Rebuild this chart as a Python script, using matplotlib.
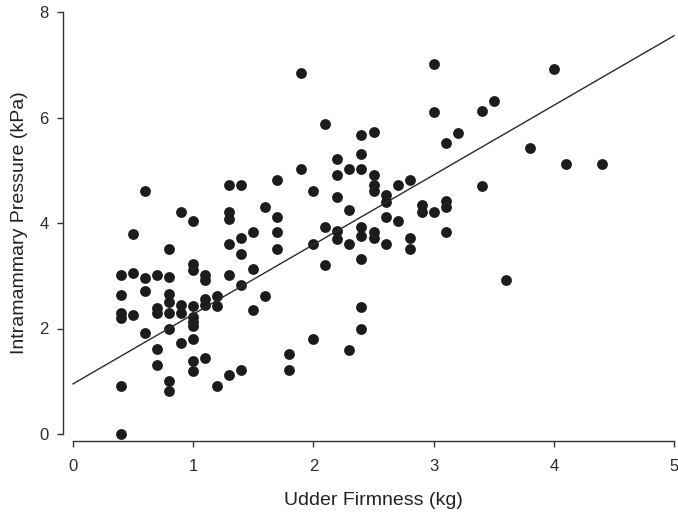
import numpy as np
import matplotlib
matplotlib.use("Agg")
import matplotlib.pyplot as plt

plt.rcParams["font.family"] = ["Liberation Sans", "DejaVu Sans"]

# udder firmness (kg) and the intramammary pressures (kPa) measured at it
firmness_levels = [0.4, 0.5, 0.6, 0.7, 0.8, 0.9, 1.0, 1.1, 1.2, 1.3, 1.4, 1.5,
                   1.6, 1.7, 1.8, 1.9, 2.0, 2.1, 2.2, 2.3, 2.4, 2.5, 2.6, 2.7,
                   2.8, 2.9, 3.0, 3.1, 3.2, 3.4, 3.5, 3.6, 3.8, 4.0, 4.1, 4.4]
pressures = [
    [3.01, 2.63, 2.29, 2.19, 0.91, 0.0],
    [3.79, 3.06, 2.26],
    [4.6, 2.95, 2.71, 1.91],
    [3.01, 2.38, 2.30, 1.61, 1.31],
    [3.51, 2.97, 2.65, 2.51, 2.30, 2.0, 1.01, 0.82],
    [4.21, 2.45, 2.30, 1.72],
    [4.04, 3.22, 3.11, 2.42, 2.22, 2.13, 2.04, 1.81, 1.38, 1.2],
    [3.01, 2.92, 2.55, 2.45, 1.45],
    [2.62, 2.42, 0.91],
    [4.72, 4.21, 4.08, 3.6, 3.01, 1.11],
    [4.72, 3.71, 3.41, 2.82, 1.21],
    [3.82, 3.12, 2.35],
    [4.31, 2.62],
    [4.82, 4.12, 3.82, 3.51],
    [1.52, 1.21],
    [6.84, 5.02],
    [4.61, 3.61, 1.81],
    [5.88, 3.92, 3.2],
    [5.22, 4.91, 4.49, 3.84, 3.70],
    [5.02, 4.25, 3.61, 1.59],
    [5.66, 5.31, 5.02, 3.93, 3.75, 3.31, 2.40, 2.0],
    [5.72, 4.91, 4.72, 4.61, 3.82, 3.71],
    [4.53, 4.40, 4.11, 3.61],
    [4.72, 4.03],
    [4.82, 3.71, 3.50],
    [4.34, 4.21],
    [7.01, 6.11, 4.21],
    [5.51, 4.42, 4.30, 3.82],
    [5.71],
    [6.12, 4.71],
    [6.32],
    [2.92],
    [5.42],
    [6.91],
    [5.11],
    [5.11],
]

# regression line as printed
fit_intercept = 0.95
fit_slope = 1.32

x = np.concatenate([[f] * len(p) for f, p in zip(firmness_levels, pressures)])
y = np.concatenate(pressures)

fig = plt.figure(figsize=(6.78, 5.17), dpi=100)
ax = fig.add_axes([73 / 678, 83 / 517, 601 / 678, 422 / 517])

ax.plot(x, y, "o", color="#1c1c1c", markersize=7.8, markeredgewidth=0, clip_on=False)

line_x = np.array([0, 5])
ax.plot(line_x, fit_intercept + fit_slope * line_x, color="#2a2a2a", linewidth=1.0, clip_on=False)

ax.set_xlim(0, 5)
ax.set_ylim(0, 8)
ax.set_xticks([0, 1, 2, 3, 4, 5])
ax.set_yticks([0, 2, 4, 6, 8])

for side in ["top", "right"]:
    ax.spines[side].set_visible(False)
ax.spines["left"].set_position(("outward", 7.2))
ax.spines["bottom"].set_position(("outward", 5.0))
ax.spines["left"].set_bounds(0, 8)
ax.spines["bottom"].set_bounds(0, 5)
for side in ["left", "bottom"]:
    ax.spines[side].set_color("#333333")
    ax.spines[side].set_linewidth(1.0)

ax.tick_params(direction="out", length=4.3, width=1.0, color="#333333",
               labelsize=12, labelcolor="#2a2a2a")
ax.tick_params(axis="x", pad=9)
ax.tick_params(axis="y", pad=6)

ax.set_xlabel("Udder Firmness (kg)", fontsize=14, color="#222222", labelpad=13)
ax.set_ylabel("Intramammary Pressure (kPa)", fontsize=14, color="#222222", labelpad=8)

fig.savefig("out.png", dpi=100)
